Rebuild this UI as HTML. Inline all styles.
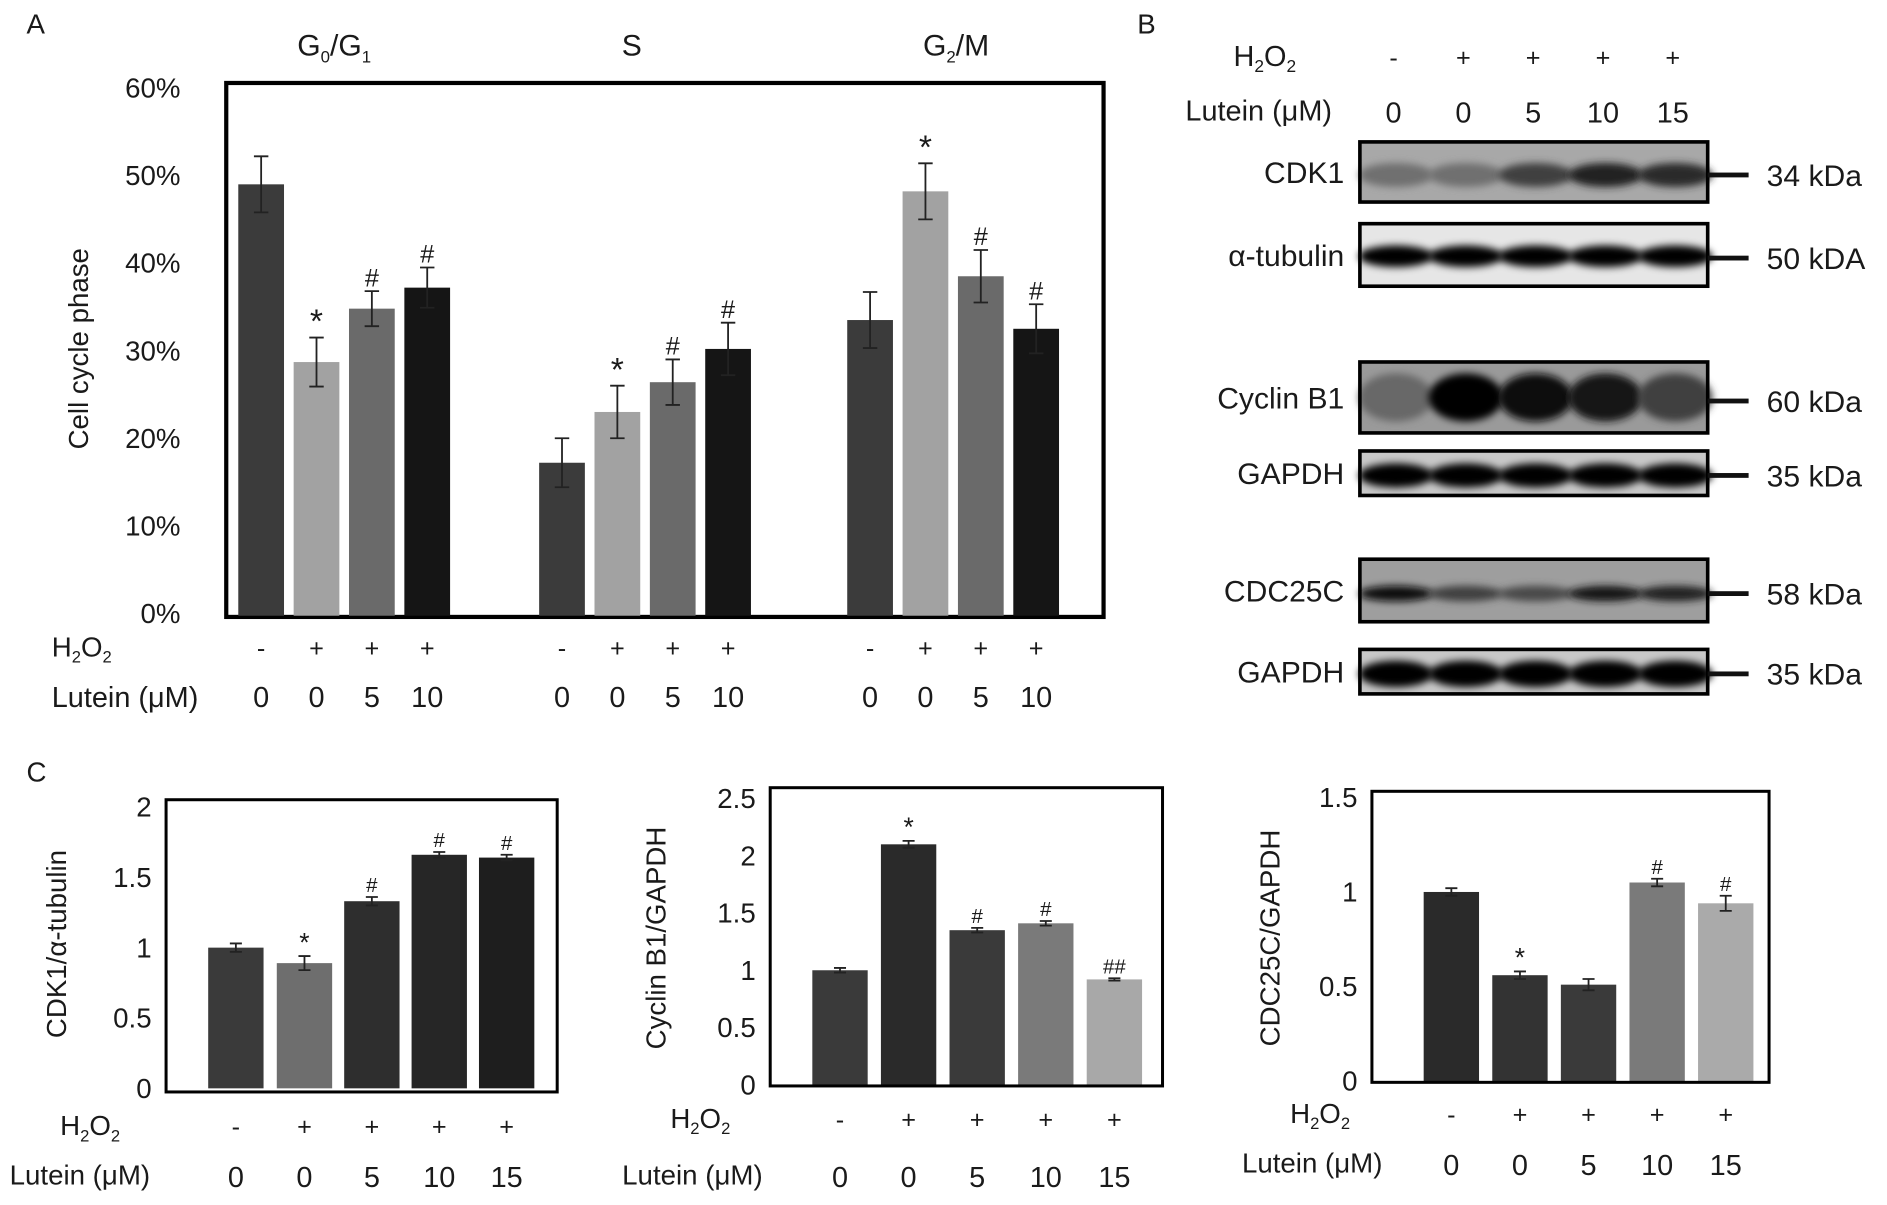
<!DOCTYPE html>
<html><head><meta charset="utf-8"><style>
html,body{margin:0;padding:0;background:#fff}
svg{display:block}
text{font-family:"Liberation Sans",sans-serif;fill:#1a1a1a}
</style></head><body>
<svg id="fig" width="1887" height="1205" viewBox="0 0 1568 1002" preserveAspectRatio="none" xmlns="http://www.w3.org/2000/svg">
<defs><filter id="blur" x="-20%" y="-100%" width="140%" height="300%"><feGaussianBlur stdDeviation="3"/></filter></defs>
<g id="pa"></g>
<g id="pb"></g>
<g id="pc"></g>
</svg>
<script>
// Panel A data
const aPhases = ["G0/G1","S","G2/M"];
const aG0G1 = [49, 28.7, 34.8, 37.2];
const aG0G1Err = [3.2, 2.8, 2.0, 2.3];
const aS = [17.2, 23.0, 26.4, 30.2];
const aSErr = [2.8, 3.0, 2.6, 3.0];
const aG2M = [33.5, 48.2, 38.5, 32.5];
const aG2MErr = [3.2, 3.2, 3.0, 2.8];
const aMarks = [["","*","#","#"],["","*","#","#"],["","*","#","#"]];
const aTicks = ["0%","10%","20%","30%","40%","50%","60%"];
const aH2O2 = ["-","+","+","+"];
const aLutein = ["0","0","5","10"];
// Panel C data
const c1Vals = [1, 0.89, 1.33, 1.66, 1.64];
const c1Err = [0.03, 0.05, 0.03, 0.02, 0.02];
const c1Marks = ["","*","#","#","#"];
const c1Ticks = ["0","0.5","1","1.5","2"];
const c2Vals = [1, 2.1, 1.35, 1.41, 0.92];
const c2Err = [0.02, 0.03, 0.02, 0.02, 0.01];
const c2Marks = ["","*","#","#","##"];
const c2Ticks = ["0","0.5","1","1.5","2","2.5"];
const c3Vals = [1, 0.56, 0.51, 1.05, 0.94];
const c3Err = [0.02, 0.02, 0.03, 0.02, 0.04];
const c3Marks = ["","*","","#","#"];
const c3Ticks = ["0","0.5","1","1.5"];
const cH2O2 = ["-","+","+","+","+"];
const cLutein = ["0","0","5","10","15"];

const NS="http://www.w3.org/2000/svg";
function el(tag, attrs, parent, txt){
  const e=document.createElementNS(NS,tag);
  for(const k in attrs) e.setAttribute(k,attrs[k]);
  if(txt!==undefined) e.textContent=txt;
  parent.appendChild(e); return e;
}
function txt(parent,x,y,s,size,anchor,name){
  const t=el("text",{x:x,y:y,"font-size":size,"text-anchor":anchor||"middle"},parent,s);
  
  
  return t;
}
function h2o2(parent,x,y,size){
  const t=el("text",{x:x,y:y,"font-size":size},parent);
  
  
  el("tspan",{},t,"H");
  el("tspan",{"font-size":size*0.6,dy:5},t,"2");
  el("tspan",{dy:-5},t,"O");
  el("tspan",{"font-size":size*0.6,dy:5},t,"2");
}
function errBar(g,x,yTop,yBot,w){
  const p=el("path",{d:`M${x},${yTop}V${yBot}M${x-w},${yTop}H${x+w}M${x-w},${yBot}H${x+w}`,stroke:"#222","stroke-width":1.5,fill:"none"},g);
  
  
}

// ---------- Panel A ----------
const pa=document.getElementById("pa");
txt(pa,22,28,"A",23,"start","panel-label-a");
const aX0=188,aX1=917,aYt=69,aYb=513;
const aY=v=>510-v*7.28;
const fa=el("rect",{x:aX0,y:aYt,width:aX1-aX0,height:aYb-aYt,fill:"none",stroke:"#000","stroke-width":3.5},pa);


aTicks.forEach((t,i)=>{ txt(pa,150,aY(i*10)+8,t,23,"end","y-tick"); });
const yt=txt(pa,0,0,"Cell cycle phase",23,"middle","y-axis-title");
yt.setAttribute("transform","translate(73,290) rotate(-90)");
const aColors=["#3b3b3b","#a2a2a2","#6a6a6a","#151515"];
const aSeries=[[aG0G1,aG0G1Err],[aS,aSErr],[aG2M,aG2MErr]];
const aStarts=[217,467,723];
aSeries.forEach((s,gi)=>{
  s[0].forEach((v,i)=>{
    const cx=aStarts[gi]+i*46;
    const r=el("rect",{x:cx-19,y:aY(v),width:38,height:aY(0)-aY(v)+2,fill:aColors[i]},pa);
    
    
    const e=s[1][i];
    errBar(pa,cx,aY(v+e),aY(v-e),6);
    if(aMarks[gi][i]) txt(pa,cx,aY(v+e)-4,aMarks[gi][i],aMarks[gi][i]=="*"?28:21,"middle","significance-mark");
  });
  aH2O2.forEach((h,i)=>txt(pa,aStarts[gi]+i*46,546,h,21,"middle","h2o2-sign"));
  aLutein.forEach((h,i)=>txt(pa,aStarts[gi]+i*46,588,h,24,"middle","lutein-dose"));
});
(function(){
  const t=el("text",{x:247,y:46,"font-size":25},pa);  
  el("tspan",{},t,"G"); el("tspan",{"font-size":14,dy:6},t,"0"); el("tspan",{dy:-6},t,"/G"); el("tspan",{"font-size":14,dy:6},t,"1");
  txt(pa,525,46,"S",25,"middle","phase-title-s");
  const t2=el("text",{x:767,y:46,"font-size":25},pa);  
  el("tspan",{},t2,"G"); el("tspan",{"font-size":14,dy:6},t2,"2"); el("tspan",{dy:-6},t2,"/M");
})();
h2o2(pa,43,546,23);
txt(pa,43,588,"Lutein (\u03bcM)",24,"start","lutein-label");

// ---------- Panel B ----------
const pb=document.getElementById("pb");
txt(pb,945,28,"B",23,"start","panel-label-b");
h2o2(pb,1025,55,24);
txt(pb,985,100,"Lutein (\u03bcM)",24,"start","lutein-label");
const lanes=[1158,1216,1274,1332,1390];
["-","+","+","+","+"].forEach((h,i)=>txt(pb,lanes[i],55,h,21,"middle","h2o2-sign"));
["0","0","5","10","15"].forEach((h,i)=>txt(pb,lanes[i],102,h,24,"middle","lutein-dose"));
const blots=[
 {n:"CDK1",y:118,h:50,bg:"#a8a8a8",kda:"34 kDa",ints:[0.45,0.45,0.7,0.85,0.8],bh:20,by:0.55},
 {n:"\u03b1-tubulin",y:186,h:52,bg:"#e6e6e6",kda:"50 kDA",ints:[1,1,1,1,1],bh:18,by:0.52},
 {n:"Cyclin B1",y:301,h:59,bg:"#9a9a9a",kda:"60 kDa",ints:[0.5,1,0.97,0.9,0.7],bh:40,by:0.5},
 {n:"GAPDH",y:375,h:37,bg:"#c8c8c8",kda:"35 kDa",ints:[1,1,1,1,1],bh:20,by:0.55},
 {n:"CDC25C",y:465,h:52,bg:"#9e9e9e",kda:"58 kDa",ints:[0.95,0.7,0.65,0.9,0.85],bh:13,by:0.55},
 {n:"GAPDH",y:540,h:37,bg:"#c8c8c8",kda:"35 kDa",ints:[1,1,1,1,1],bh:22,by:0.55}
];
blots.forEach((b,bi)=>{
  const g=el("g",{},pb);  
  el("rect",{x:1130,y:b.y,width:289,height:b.h,fill:b.bg},g);
  b.ints.forEach((v,i)=>{
    const c=Math.round(200-195*v);
    el("ellipse",{cx:lanes[i]+2,cy:b.y+b.h*b.by,rx:31,ry:b.bh/2,fill:`rgb(${c},${c},${c})`,filter:"url(#blur)"},g);
  });
  el("rect",{x:1130,y:b.y,width:289,height:b.h,fill:"none",stroke:"#000","stroke-width":3},g);
  el("rect",{x:1419,y:b.y+b.h*0.55-2,width:34,height:4,fill:"#111"},g);
  txt(pb,1117,b.y+b.h/2+9,b.n,25,"end","blot-label");
  txt(pb,1468,b.y+b.h*0.55+9,b.kda,25,"start","kda-label");
});

// ---------- Panel C ----------
const pc=document.getElementById("pc");
txt(pc,22,650,"C",23,"start","panel-label-c");
function cChart(name,fr,y0,unit,ticks,tickStep,centers,vals,errs,marks,colors,ytitle,ytx,yty,h2y,luy,h2x,lux){
  const g=el("g",{},pc);  
  const Y=v=>y0-v*unit;
  vals.forEach((v,i)=>{
    const r=el("rect",{x:centers[i]-23,y:Y(v),width:46,height:Y(0)-Y(v),fill:colors[i]},g);
     
    errBar(g,centers[i],Y(v+errs[i]),Y(v-errs[i]),5);
    if(marks[i]) txt(g,centers[i],Y(v+errs[i])-4,marks[i],marks[i]=="*"?22:17,"middle","significance-mark");
  });
  const f=el("rect",{x:fr[0],y:fr[1],width:fr[2]-fr[0],height:fr[3]-fr[1],fill:"none",stroke:"#000","stroke-width":2.5},g);
   
  ticks.forEach((t,i)=>txt(g,fr[0]-12,Y(i*tickStep)+8,t,23,"end","y-tick"));
  const t=txt(g,0,0,ytitle,23,"middle","y-axis-title");
  t.setAttribute("transform",`translate(${ytx},${yty}) rotate(-90)`);
  h2o2(g,h2x,h2y,23);
  txt(g,lux,luy,"Lutein (\u03bcM)",23,"start","lutein-label");
  cH2O2.forEach((h,i)=>txt(g,centers[i],h2y,h,21,"middle","h2o2-sign"));
  cLutein.forEach((h,i)=>txt(g,centers[i],luy+2,h,24,"middle","lutein-dose"));
}
cChart("chart-cdk1",[138,665,463,908],905,117,c1Ticks,0.5,[196,253,309,365,421],c1Vals,c1Err,c1Marks,
  ["#3a3a3a","#6e6e6e","#2e2e2e","#262626","#1e1e1e"],"CDK1/\u03b1-tubulin",55,785,944,985,50,8);
cChart("chart-cyclinb1",[640,655,966,903],902,95.2,c2Ticks,0.5,[698,755,812,869,926],c2Vals,c2Err,c2Marks,
  ["#3a3a3a","#2a2a2a","#3a3a3a","#7a7a7a","#a8a8a8"],"Cyclin B1/GAPDH",553,780,938,985,557,517);
cChart("chart-cdc25c",[1140,658,1470,900],899,157.3,c3Ticks,0.5,[1206,1263,1320,1377,1434],c3Vals,c3Err,c3Marks,
  ["#2a2a2a","#333333","#3a3a3a","#7a7a7a","#aaaaaa"],"CDC25C/GAPDH",1063,780,934,975,1072,1032);
</script>
</body></html>
